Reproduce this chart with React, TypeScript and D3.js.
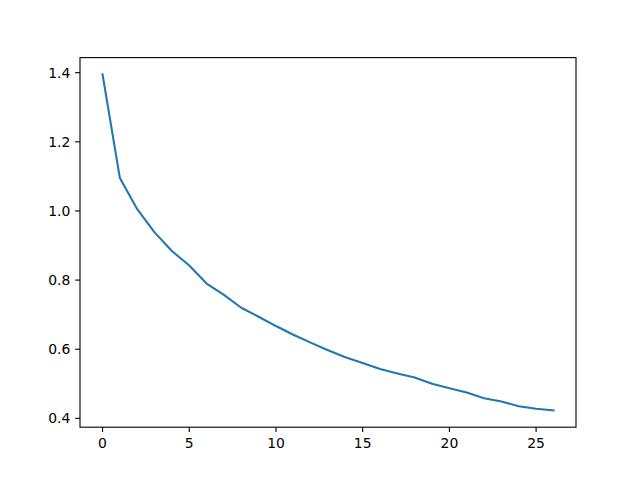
import React from "react";
import * as d3 from "d3";

const epochs: number[] = Array.from({ length: 27 }, (_, i) => i);
const loss: number[] = [
  1.395, 1.095, 1.005, 0.938, 0.884, 0.842, 0.790, 0.757, 0.720, 0.694,
  0.667, 0.642, 0.619, 0.597, 0.577, 0.560, 0.543, 0.530, 0.518, 0.500,
  0.487, 0.475, 0.458, 0.449, 0.435, 0.428, 0.423,
];
const xTicks: number[] = [0, 5, 10, 15, 20, 25];
const yTicks: number[] = [0.4, 0.6, 0.8, 1.0, 1.2, 1.4];

const W = 640, H = 480;
const L = 80, R = 576, T = 57.6, B = 427.2;

export default function App() {
  const xmin = d3.min(epochs)!, xmax = d3.max(epochs)!;
  const ymin = d3.min(loss)!, ymax = d3.max(loss)!;
  const xm = (xmax - xmin) * 0.05, ym = (ymax - ymin) * 0.05;
  const x = d3.scaleLinear().domain([xmin - xm, xmax + xm]).range([L, R]);
  const y = d3.scaleLinear().domain([ymin - ym, ymax + ym]).range([B, T]);
  const line = d3.line<number>().x((_, i) => x(epochs[i])).y((d) => y(d));
  const font = "DejaVu Sans, sans-serif";
  return (
    <svg width={W} height={H} style={{ position: "absolute", left: 0, top: 0 }}>
      <rect x={0} y={0} width={W} height={H} fill="#fff" />
      <path d={line(loss)!} fill="none" stroke="#1f77b4" strokeWidth={2.08} strokeLinecap="square" strokeLinejoin="round" />
      <rect x={L} y={T} width={R - L} height={B - T} fill="none" stroke="#000" strokeWidth={1.11} />
      {xTicks.map((t) => (
        <g key={"x" + t}>
          <line x1={x(t)} x2={x(t)} y1={B} y2={B + 4.86} stroke="#000" strokeWidth={1.11} />
          <text x={x(t)} y={B + 4.86 + 4.86} dy="0.8em" textAnchor="middle" fontFamily={font} fontSize={13.9} fill="#000">
            {t}
          </text>
        </g>
      ))}
      {yTicks.map((t) => (
        <g key={"y" + t}>
          <line x1={L - 4.86} x2={L} y1={y(t)} y2={y(t)} stroke="#000" strokeWidth={1.11} />
          <text x={L - 9.72} y={y(t)} dy="0.35em" textAnchor="end" fontFamily={font} fontSize={13.9} fill="#000">
            {t.toFixed(1)}
          </text>
        </g>
      ))}
    </svg>
  );
}
